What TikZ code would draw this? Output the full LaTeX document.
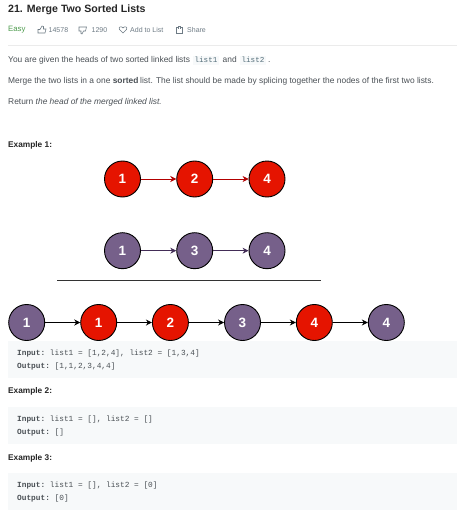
\documentclass[tikz,border=0pt]{standalone}
\usepackage{fontspec}
\setmainfont{Liberation Sans}
\setmonofont{Liberation Mono}
\usetikzlibrary{arrows.meta}
\definecolor{redfill}{HTML}{E51400}
\definecolor{purplefill}{HTML}{76608A}
\definecolor{redline}{HTML}{B20000}
\definecolor{purpleline}{HTML}{432D57}
\definecolor{bodytext}{HTML}{4A5055}
\definecolor{metatext}{HTML}{6E7B85}
\definecolor{codebg}{HTML}{F7F9FA}
\definecolor{codetext}{HTML}{546E7A}
\definecolor{easygreen}{HTML}{5CB85C}
\tikzset{
  redball/.style={circle, draw=black, fill=redfill, line width=.9pt, minimum size=36pt, inner sep=0, text=white, font=\bfseries\fontsize{13.5}{14}\selectfont},
  purpleball/.style={redball, fill=purplefill},
  txt/.style={anchor=base west, inner sep=0, text=bodytext, font=\fontsize{8.4}{10}\selectfont},
  meta/.style={anchor=base west, inner sep=0, text=metatext, font=\fontsize{7}{8}\selectfont},
  head/.style={anchor=base west, inner sep=0, text=black!85, font=\bfseries\fontsize{8.3}{10}\selectfont},
  code/.style={anchor=base west, inner sep=0, text=bodytext, font=\ttfamily\fontsize{7.8}{10}\selectfont},
  inlinecode/.style={anchor=base, fill=codebg, text=codetext, inner xsep=2pt, inner ysep=1.5pt, font=\ttfamily\fontsize{7.6}{9}\selectfont},
  icon/.style={metatext, line width=.6pt},
}
\begin{document}
\begin{tikzpicture}[x=1pt, y=-1pt, >={Stealth[length=6pt, width=6pt]}]

\path[use as bounding box, fill=white] (0, 0) rectangle (457, 516);

\node[anchor=base west, inner sep=0, text=black!85, font=\bfseries\fontsize{10.6}{12}\selectfont] (title) at (8, 13) {21. Merge Two Sorted Lists};
\node[anchor=base west, inner sep=0, text=easygreen!85!black, font=\fontsize{7.8}{9}\selectfont] (easy) at (8, 32) {Easy};

\draw[icon] (38, 33) -- (38, 29.5) -- (40, 29.5) -- (42, 26) -- (43.5, 26.5) -- (43.5, 29) -- (46, 29) -- (45, 33) -- cycle; %thumb up
\node[meta] (likes) at (48.5, 32.5) {14578};
\draw[icon] (79, 27) -- (86.5, 27) -- (85.5, 31) -- (83.5, 31) -- (82, 34) -- (81, 33.5) -- (81, 31) -- (79, 31) -- cycle; %thumb down
\node[meta] (dislikes) at (91.5, 32.5) {1290};
\draw[icon] (123, 33) -- (119.5, 29.5) .. controls (118, 27) and (121.5, 25.5) .. (123, 28) .. controls (124.5, 25.5) and (128, 27) .. (126.5, 29.5) -- cycle; %heart
\node[meta] (addlist) at (130, 32.5) {Add to List};
\draw[icon] (177.5, 27) -- (176, 27) -- (176, 33) -- (182.5, 33) -- (182.5, 27) -- (181, 27); %share
\draw[icon] (178, 29) -- (178, 26.5) -- (180.5, 26.5) -- (180.5, 29);
\node[meta] (share) at (187, 32.5) {Share};
\draw[black!8, line width=.7pt] (8, 45.5) -- (457, 45.5); %rule

\node[txt] (para1a) at (8, 63) {You are given the heads of two sorted linked lists};
\node[inlinecode] (codea) at (206, 63) {list1};
\node[txt] (para1b) at (222.5, 63) {and};
\node[inlinecode] (codeb) at (253, 63) {list2};
\node[txt] (para1c) at (268, 63) {.};
\node[txt] (para2a) at (8, 84) {Merge the two lists in a one \textbf{sorted}};
\node[txt] (para2b) at (140, 84) {\addfontfeature{LetterSpace=0.2}list. The list should be made by splicing together the nodes of the first two lists.};
\node[txt] (para3) at (8, 105) {Return \textit{the head of the merged linked list.}};

\node[head] (exone) at (8, 147) {Example 1:};

\node[redball] (ra) at (122.5, 179) {1};
\node[redball] (rb) at (194.7, 179) {2};
\node[redball] (rc) at (267, 179) {4};
\draw[redline, line width=.7pt, ->] (ra) -- (rb); %1 to 2
\draw[redline, line width=.7pt, ->] (rb) -- (rc); %2 to 4

\node[purpleball] (pa) at (122.5, 250.7) {1};
\node[purpleball] (pb) at (194.7, 250.7) {3};
\node[purpleball] (pc) at (267, 250.7) {4};
\draw[purpleline, line width=.7pt, ->] (pa) -- (pb); %1 to 3
\draw[purpleline, line width=.7pt, ->] (pb) -- (pc); %3 to 4

\draw[black!80, line width=1.1pt] (57, 280.8) -- (321, 280.8); %divider

\fill[codebg] (8, 341) rectangle (457, 378);
\fill[codebg] (8, 407) rectangle (457, 444);
\fill[codebg] (8, 473) rectangle (457, 510);

\node[purpleball] (ma) at (26.7, 322.5) {1};
\node[redball] (mb) at (98.7, 322.5) {1};
\node[redball] (mc) at (170.4, 322.5) {2};
\node[purpleball] (md) at (242.5, 322.5) {3};
\node[redball] (me) at (314.3, 322.5) {4};
\node[purpleball] (mf) at (386.3, 322.5) {4};
\draw[black, line width=.9pt, ->] (ma) -- (mb);
\draw[black, line width=.9pt, ->] (mb) -- (mc);
\draw[black, line width=.9pt, ->] (mc) -- (md);
\draw[black, line width=.9pt, ->] (md) -- (me);
\draw[black, line width=.9pt, ->] (me) -- (mf);

\node[code] (ina) at (17, 355) {\textbf{Input:} list1 = [1,2,4], list2 = [1,3,4]};
\node[code] (outa) at (17, 368) {\textbf{Output:} [1,1,2,3,4,4]};

\node[head] (extwo) at (8, 393) {Example 2:};
\node[code] (inb) at (17, 421) {\textbf{Input:} list1 = [], list2 = []};
\node[code] (outb) at (17, 434) {\textbf{Output:} []};

\node[head] (exthree) at (8, 460) {Example 3:};
\node[code] (inc) at (17, 487) {\textbf{Input:} list1 = [], list2 = [0]};
\node[code] (outc) at (17, 500) {\textbf{Output:} [0]};

\end{tikzpicture}
\end{document}
